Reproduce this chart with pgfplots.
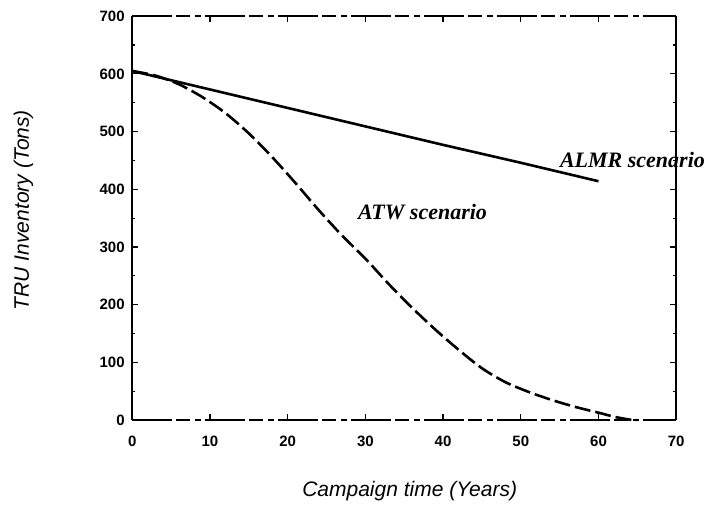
\documentclass[border=0pt]{standalone}
\usepackage{pgfplots}
\pgfplotsset{compat=1.18}
\usepackage{fontspec}
\setmainfont{Liberation Sans}
\newfontfamily\serifit{Liberation Serif}
\begin{document}
\begin{tikzpicture}
\begin{axis}[
    scale only axis,
    width=544pt, height=404pt,
    xmin=0, xmax=70, ymin=0, ymax=700,
    xtick={0,10,...,70}, ytick={0,100,...,700},
    minor y tick num=1,
    tick align=inside,
    major tick length=6pt, minor tick length=3pt,
    tick style={black, line width=1.2pt},
    separate axis lines,
    x axis line style={line width=1.5pt, dash pattern=on 40pt off 4pt on 14pt off 5pt on 6pt off 4pt},
    y axis line style={line width=1.5pt},
    /pgf/number format/assume math mode=true,
    ticklabel style={font=\fontsize{15}{17}\selectfont\bfseries},
    xticklabel style={yshift=-12pt},
    yticklabel style={xshift=-4pt},
    xlabel={Campaign time (Years)},
    ylabel={TRU Inventory (Tons)},
    label style={font=\fontsize{21}{25}\selectfont\itshape},
    xlabel style={at={(rel axis cs:0.51,-0.175)}, anchor=center},
    ylabel style={at={(rel axis cs:-0.2,0.52)}, anchor=center, rotate=0},
    clip=false,
]
% ALMR scenario
\addplot[black, line width=2.6pt] coordinates {
    (0,605) (10,573) (20,541) (30,509) (40,477) (50,446) (60,414)
};
% ATW scenario
\addplot[black, line width=2.6pt, dash pattern=on 16pt off 5pt, smooth] coordinates {
    (0,605) (3,597) (6,582) (9,560) (12,532) (15,497) (18,456) (21,411)
    (24,364) (27,320) (30,280) (33,236) (36,195) (39,157) (42,122)
    (45,90) (48,66) (51,49) (54,35) (57,23) (60,13) (62,6) (64,1) (65,0)
};
\node[anchor=west, font=\serifit\fontsize{22}{26}\selectfont\itshape\bfseries]
    at (axis cs:54.6,451) {ALMR scenario};
\node[anchor=west, font=\serifit\fontsize{22}{26}\selectfont\itshape\bfseries]
    at (axis cs:28.6,360) {ATW scenario};
\path (rel axis cs:-0.243,-0.223) rectangle (rel axis cs:1.086,1.04);
\end{axis}
\end{tikzpicture}
\end{document}
